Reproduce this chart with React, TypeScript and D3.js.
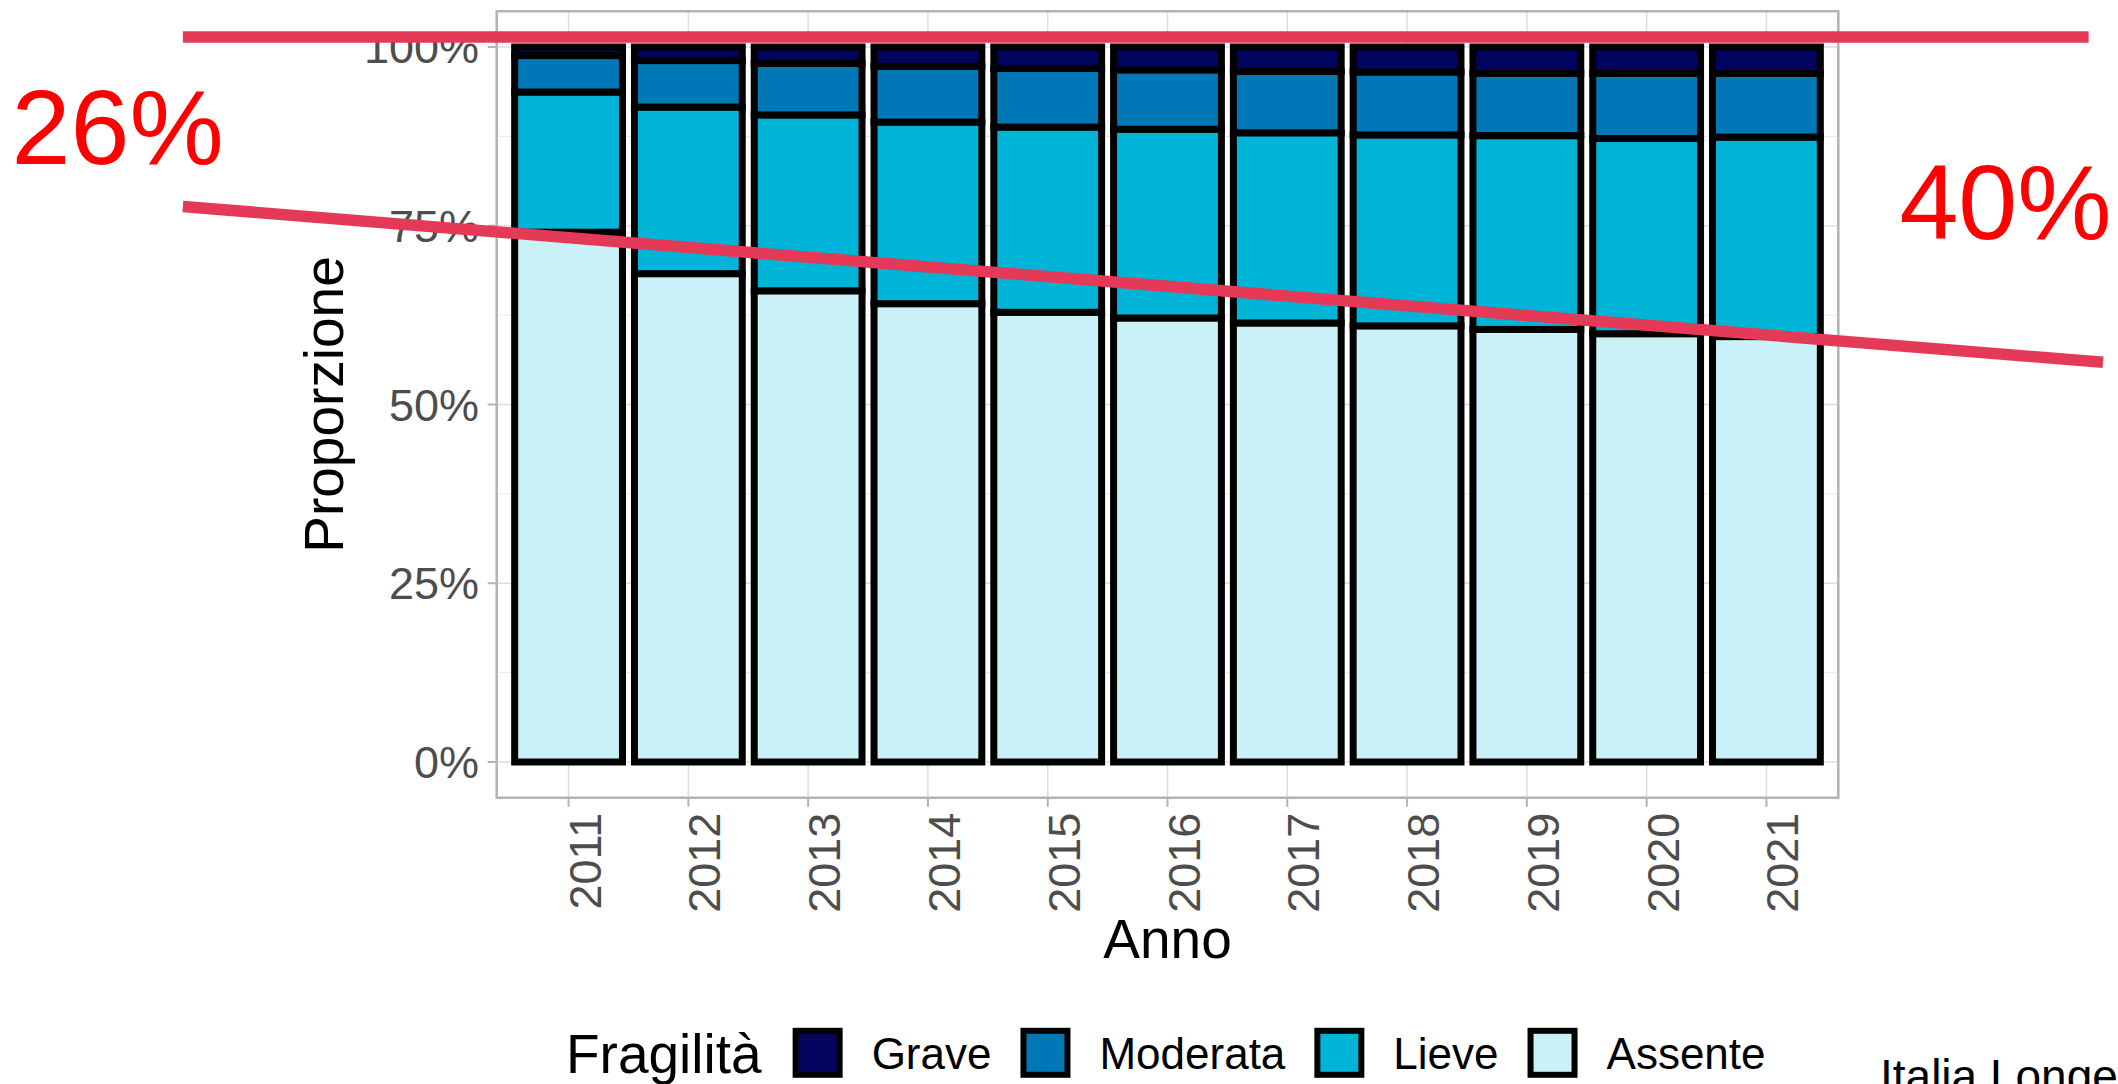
import React, { useEffect, useRef } from 'react';
import * as d3 from 'd3';

// ---- data ----
const years = ['2011', '2012', '2013', '2014', '2015', '2016', '2017', '2018', '2019', '2020', '2021'];
const levels = ['Grave', 'Moderata', 'Lieve', 'Assente'];
const grave = [1.2, 1.9, 2.3, 2.7, 3.0, 3.2, 3.4, 3.5, 3.7, 3.7, 3.7];
const moderata = [5.1, 6.5, 7.2, 7.8, 8.2, 8.3, 8.6, 8.8, 8.7, 9.1, 8.9];
const lieve = [19.6, 23.3, 24.6, 25.4, 25.9, 26.4, 26.6, 26.7, 27.1, 27.3, 27.9];
const assente = [74.1, 68.3, 65.9, 64.1, 62.9, 62.1, 61.4, 61.0, 60.5, 59.9, 59.5];
const levelColors = ['#03045E', '#0077B6', '#00B4D8', '#CAF0F8'];
const yTicks = [0, 0.25, 0.5, 0.75, 1];
const yMinorTicks = [0.125, 0.375, 0.625, 0.875];
const yTickLabels = ['0%', '25%', '50%', '75%', '100%'];
// annotation lines (x: position in year-index units, y: proportion)
const annotLines = [
  { x1: -3.22, y1: 1.014, x2: 12.69, y2: 1.014 },
  { x1: -3.22, y1: 0.777, x2: 12.81, y2: 0.559 },
];
const annotTexts = [
  { label: '26%', x: -4.65, y: 0.837 },
  { label: '40%', x: 11.11, y: 0.731 },
];
const xTitle = 'Anno';
const yTitle = 'Proporzione';
const legendTitle = 'Fragilità';
const caption = 'Italia Longeva';

const W = 2118;
const H = 1084;
const FONT = "'Liberation Sans', Arial, Helvetica, sans-serif";

export default function App() {
  const ref = useRef<SVGSVGElement | null>(null);

  useEffect(() => {
    const svg = d3.select(ref.current);
    svg.selectAll('*').remove();

    const panel = { left: 496.7, right: 1838.3, top: 11.25, bottom: 797.75 };

    const x = d3
      .scaleBand<string>()
      .domain(years)
      .range([panel.left, panel.right])
      .paddingInner(0.1)
      .paddingOuter(0.15);
    const xc = (yr: string) => (x(yr) as number) + x.bandwidth() / 2;
    const xLin = d3
      .scaleLinear()
      .domain([0, years.length - 1])
      .range([xc(years[0]), xc(years[years.length - 1])]);

    const y = d3.scaleLinear().domain([-0.05, 1.05]).range([panel.bottom, panel.top]);

    const rows = years.map((yr, i) => ({
      year: yr,
      Grave: grave[i] / 100,
      Moderata: moderata[i] / 100,
      Lieve: lieve[i] / 100,
      Assente: assente[i] / 100,
    }));
    const stackKeys = ['Assente', 'Lieve', 'Moderata', 'Grave'];
    const stacked = d3.stack<any>().keys(stackKeys)(rows);
    const colorOf = d3.scaleOrdinal<string, string>().domain(levels).range(levelColors);

    // panel background
    svg.append('rect')
      .attr('x', panel.left).attr('y', panel.top)
      .attr('width', panel.right - panel.left).attr('height', panel.bottom - panel.top)
      .attr('fill', '#FFFFFF');

    const grid = svg.append('g');
    grid.selectAll('line.minor')
      .data(yMinorTicks)
      .join('line')
      .attr('x1', panel.left).attr('x2', panel.right)
      .attr('y1', (d) => y(d)).attr('y2', (d) => y(d))
      .attr('stroke', '#E5E5E5').attr('stroke-width', 0.8);
    grid.selectAll('line.majorY')
      .data(yTicks)
      .join('line')
      .attr('x1', panel.left).attr('x2', panel.right)
      .attr('y1', (d) => y(d)).attr('y2', (d) => y(d))
      .attr('stroke', '#DEDEDE').attr('stroke-width', 1.5);
    grid.selectAll('line.majorX')
      .data(years)
      .join('line')
      .attr('x1', (d) => xc(d)).attr('x2', (d) => xc(d))
      .attr('y1', panel.top).attr('y2', panel.bottom)
      .attr('stroke', '#DEDEDE').attr('stroke-width', 1.5);

    // bars
    const bars = svg.append('g');
    stacked.forEach((series) => {
      bars.append('g')
        .selectAll('rect')
        .data(series)
        .join('rect')
        .attr('x', (d: any) => x(d.data.year) as number)
        .attr('width', x.bandwidth())
        .attr('y', (d: any) => y(d[1]))
        .attr('height', (d: any) => y(d[0]) - y(d[1]))
        .attr('fill', colorOf(series.key))
        .attr('stroke', '#000000')
        .attr('stroke-width', 7);
    });

    // panel border
    svg.append('rect')
      .attr('x', panel.left).attr('y', panel.top)
      .attr('width', panel.right - panel.left).attr('height', panel.bottom - panel.top)
      .attr('fill', 'none').attr('stroke', '#B3B3B3').attr('stroke-width', 2.5);

    // ticks
    svg.append('g').selectAll('line')
      .data(yTicks)
      .join('line')
      .attr('x1', panel.left - 9).attr('x2', panel.left)
      .attr('y1', (d) => y(d)).attr('y2', (d) => y(d))
      .attr('stroke', '#B3B3B3').attr('stroke-width', 2);
    svg.append('g').selectAll('line')
      .data(years)
      .join('line')
      .attr('x1', (d) => xc(d)).attr('x2', (d) => xc(d))
      .attr('y1', panel.bottom).attr('y2', panel.bottom + 9)
      .attr('stroke', '#B3B3B3').attr('stroke-width', 2);

    // tick labels
    svg.append('g').selectAll('text')
      .data(yTicks)
      .join('text')
      .attr('x', 479)
      .attr('y', (d) => y(d) + 16)
      .attr('text-anchor', 'end')
      .attr('font-family', FONT)
      .attr('font-size', 45)
      .attr('fill', '#4D4D4D')
      .text((d, i) => yTickLabels[i]);
    svg.append('g').selectAll('text')
      .data(years)
      .join('text')
      .attr('transform', (d) => `translate(${xc(d) + 32},${panel.bottom + 15}) rotate(-90)`)
      .attr('text-anchor', 'end')
      .attr('font-family', FONT)
      .attr('font-size', 45)
      .attr('fill', '#4D4D4D')
      .text((d) => d);

    // axis titles
    svg.append('text')
      .attr('transform', `translate(343,${(panel.top + panel.bottom) / 2}) rotate(-90)`)
      .attr('text-anchor', 'middle')
      .attr('font-family', FONT).attr('font-size', 55).attr('fill', '#000')
      .text(yTitle);
    svg.append('text')
      .attr('x', (panel.left + panel.right) / 2)
      .attr('y', 958)
      .attr('text-anchor', 'middle')
      .attr('font-family', FONT).attr('font-size', 55).attr('fill', '#000')
      .text(xTitle);

    // legend
    const lg = svg.append('g');
    const titleEl = lg.append('text')
      .attr('x', 566).attr('y', 1072.5)
      .attr('font-family', FONT).attr('font-size', 55).attr('fill', '#000')
      .text(legendTitle);
    let cx = 566 + (titleEl.node() as SVGTextElement).getComputedTextLength() + 34;
    const keySize = 44;
    const keyTop = 1030.8;
    levels.forEach((lv) => {
      lg.append('rect')
        .attr('x', cx).attr('y', keyTop)
        .attr('width', keySize).attr('height', keySize)
        .attr('fill', colorOf(lv))
        .attr('stroke', '#000').attr('stroke-width', 6);
      const t = lg.append('text')
        .attr('x', cx + keySize + 32)
        .attr('y', keyTop + keySize / 2 + 16)
        .attr('font-family', FONT).attr('font-size', 44).attr('fill', '#000')
        .text(lv);
      cx = cx + keySize + 32 + (t.node() as SVGTextElement).getComputedTextLength() + 32;
    });

    // caption (cut by the bottom/right edge, as in the reference)
    svg.append('text')
      .attr('x', 1880).attr('y', 1092)
      .attr('font-family', FONT).attr('font-size', 46).attr('fill', '#000')
      .text(caption);

    // red annotations
    svg.append('g').selectAll('line')
      .data(annotLines)
      .join('line')
      .attr('x1', (d) => xLin(d.x1)).attr('y1', (d) => y(d.y1))
      .attr('x2', (d) => xLin(d.x2)).attr('y2', (d) => y(d.y2))
      .attr('stroke', '#E43A58').attr('stroke-width', 11.5).attr('stroke-linecap', 'butt');
    svg.append('g').selectAll('text')
      .data(annotTexts)
      .join('text')
      .attr('x', (d) => xLin(d.x)).attr('y', (d) => y(d.y))
      .attr('font-family', FONT).attr('font-size', 106).attr('fill', '#FF0000')
      .text((d) => d.label);
  }, []);

  return (
    <svg
      ref={ref}
      width={W}
      height={H}
      viewBox={`0 0 ${W} ${H}`}
      style={{ position: 'absolute', left: 0, top: 0, background: '#FFFFFF', display: 'block' }}
    />
  );
}
